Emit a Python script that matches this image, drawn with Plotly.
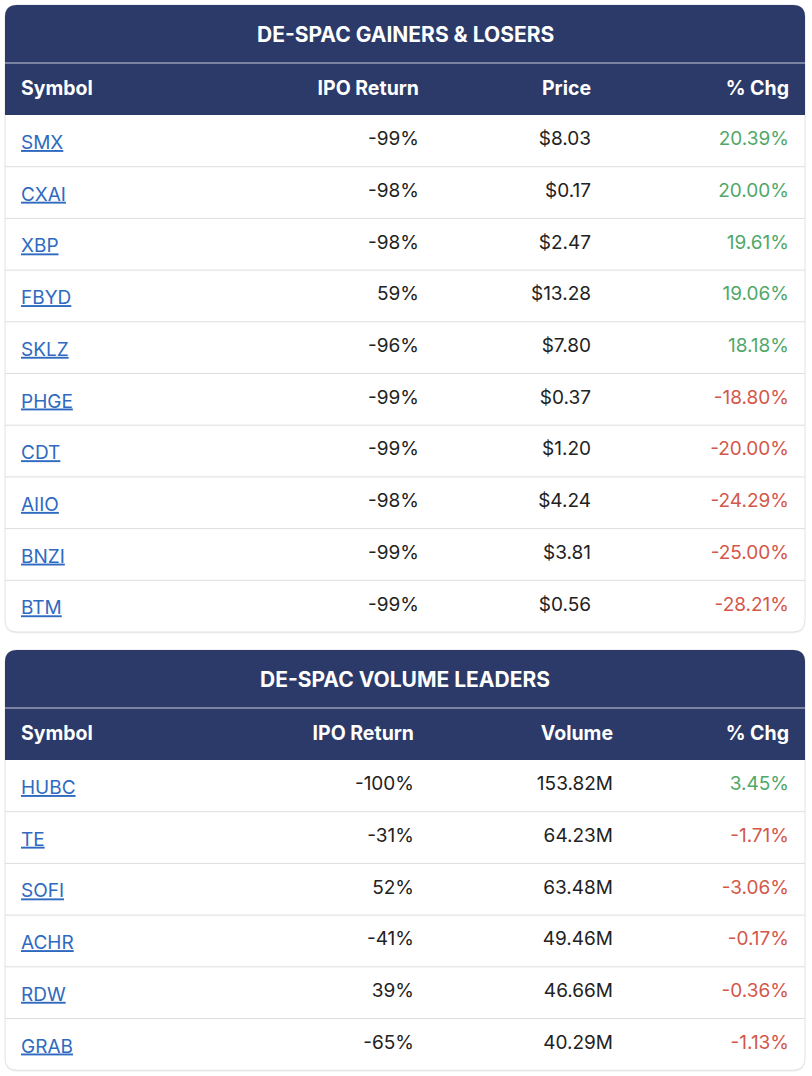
import plotly.graph_objects as go

# ---- data ----
gl_symbols = ["SMX", "CXAI", "XBP", "FBYD", "SKLZ", "PHGE", "CDT", "AIIO", "BNZI", "BTM"]
gl_ipo = [-99, -98, -98, 59, -96, -99, -99, -98, -99, -99]
gl_price = [8.03, 0.17, 2.47, 13.28, 7.80, 0.37, 1.20, 4.24, 3.81, 0.56]
gl_chg = [20.39, 20.00, 19.61, 19.06, 18.18, -18.80, -20.00, -24.29, -25.00, -28.21]

vl_symbols = ["HUBC", "TE", "SOFI", "ACHR", "RDW", "GRAB"]
vl_ipo = [-100, -31, 52, -41, 39, -65]
vl_volume = [153.82, 64.23, 63.48, 49.46, 46.66, 40.29]
vl_chg = [3.45, -1.71, -3.06, -0.17, -0.36, -1.13]

W, H = 812, 1076
NAVY = "#2b3a69"
GREEN = "#4fa86a"
RED = "#d4574a"
LINK = "#2f6ac0"
TEXT = "#222222"
FONT = "Inter"
ROW_H = 51.7
TITLE_H = 58
HEAD_H = 52
TEXT_SHIFT = 5  # vertical nudge of table text
HEAD_EXTRA = 3  # header text sits a bit higher than cell text


def px_x(x):
    return x / W


def px_y(y):
    return 1 - y / H


def chg_colors(vals):
    return [GREEN if v >= 0 else RED for v in vals]


def rounded_rect(x0, y0, x1, y1, r, top_only=False):
    if top_only:
        return (f"M{x0},{y1} L{x0},{y0+r} Q{x0},{y0} {x0+r},{y0} L{x1-r},{y0} "
                f"Q{x1},{y0} {x1},{y0+r} L{x1},{y1} Z")
    return (f"M{x0+r},{y0} L{x1-r},{y0} Q{x1},{y0} {x1},{y0+r} L{x1},{y1-r} "
            f"Q{x1},{y1} {x1-r},{y1} L{x0+r},{y1} Q{x0},{y1} {x0},{y1-r} "
            f"L{x0},{y0+r} Q{x0},{y0} {x0+r},{y0} Z")


fig = go.Figure()
shapes = []
annotations = []


def add_card(top, title, headers, columns, colwidths, aligns, chg):
    n = len(columns[0])
    x0, x1 = 5, 805
    bottom = top + TITLE_H + HEAD_H + n * ROW_H
    # shadow + card
    shapes.append(dict(type="path", path=rounded_rect(x0, top + 1.5, x1, bottom + 1.5, 12),
                       fillcolor="rgba(0,0,0,0.06)", line_width=0, layer="below"))
    shapes.append(dict(type="path", path=rounded_rect(x0, top, x1, bottom, 12),
                       fillcolor="white", line=dict(color="#e2e2e2", width=1), layer="below"))
    # title band + header band
    shapes.append(dict(type="path", path=rounded_rect(x0, top, x1, top + TITLE_H, 12, top_only=True),
                       fillcolor=NAVY, line_width=0, layer="below"))
    shapes.append(dict(type="rect", x0=x0, x1=x1, y0=top + TITLE_H, y1=top + TITLE_H + HEAD_H,
                       fillcolor=NAVY, line_width=0, layer="below"))
    shapes.append(dict(type="line", x0=x0, x1=x1, y0=top + TITLE_H, y1=top + TITLE_H,
                       line=dict(color="rgba(255,255,255,0.75)", width=1), layer="below"))
    # row separators
    for k in range(1, n):
        y = top + TITLE_H + HEAD_H + k * ROW_H
        shapes.append(dict(type="line", x0=x0, x1=x1, y0=y, y1=y,
                           line=dict(color="#dedede", width=1), layer="below"))
    annotations.append(dict(text=f"<b>{title}</b>", x=(x0 + x1) / 2, y=top + TITLE_H / 2,
                            xref="x", yref="y", showarrow=False,
                            font=dict(family=FONT, size=21, color="white")))

    t_top = top + TITLE_H + TEXT_SHIFT
    t_bot = min(H, bottom + TEXT_SHIFT + HEAD_EXTRA + 4)
    fig.add_trace(go.Table(
        domain=dict(x=[px_x(13), px_x(797)], y=[max(0, px_y(t_bot)), px_y(t_top)]),
        columnwidth=colwidths,
        header=dict(values=[f"<b>{h}</b>" for h in headers], height=HEAD_H + HEAD_EXTRA,
                    align=aligns, fill_color="rgba(0,0,0,0)", line_width=0,
                    font=dict(family=FONT, size=19.5, color="white")),
        cells=dict(values=columns, height=ROW_H, align=aligns,
                   fill_color="rgba(0,0,0,0)", line_width=0,
                   font=dict(family=FONT, size=19, color=[LINK, TEXT, TEXT, chg_colors(chg)])),
    ))


add_card(5, "DE-SPAC GAINERS & LOSERS",
         ["Symbol", "IPO Return", "Price", "% Chg"],
         [[f"<u>{s}</u>" for s in gl_symbols],
          [f"{v}%" for v in gl_ipo],
          [f"${v:.2f}" for v in gl_price],
          [f"{v:.2f}%" for v in gl_chg]],
         [214, 200, 172, 198], ["left", "right", "right", "right"], gl_chg)

add_card(650, "DE-SPAC VOLUME LEADERS",
         ["Symbol", "IPO Return", "Volume", "% Chg"],
         [[f"<u>{s}</u>" for s in vl_symbols],
          [f"{v}%" for v in vl_ipo],
          [f"{v:.2f}M" for v in vl_volume],
          [f"{v:.2f}%" for v in vl_chg]],
         [209, 200, 199, 176], ["left", "right", "right", "right"], vl_chg)

fig.update_layout(
    width=W, height=H,
    margin=dict(l=0, r=0, t=0, b=0),
    paper_bgcolor="white", plot_bgcolor="white",
    xaxis=dict(range=[0, W], visible=False, fixedrange=True),
    yaxis=dict(range=[H, 0], visible=False, fixedrange=True),
    shapes=shapes, annotations=annotations,
    showlegend=False,
)
# drop the default 8px page margin so the figure fills the window
fig.write_html("out.html", config={"displayModeBar": False},
               post_script="document.body.style.margin='0px';")
